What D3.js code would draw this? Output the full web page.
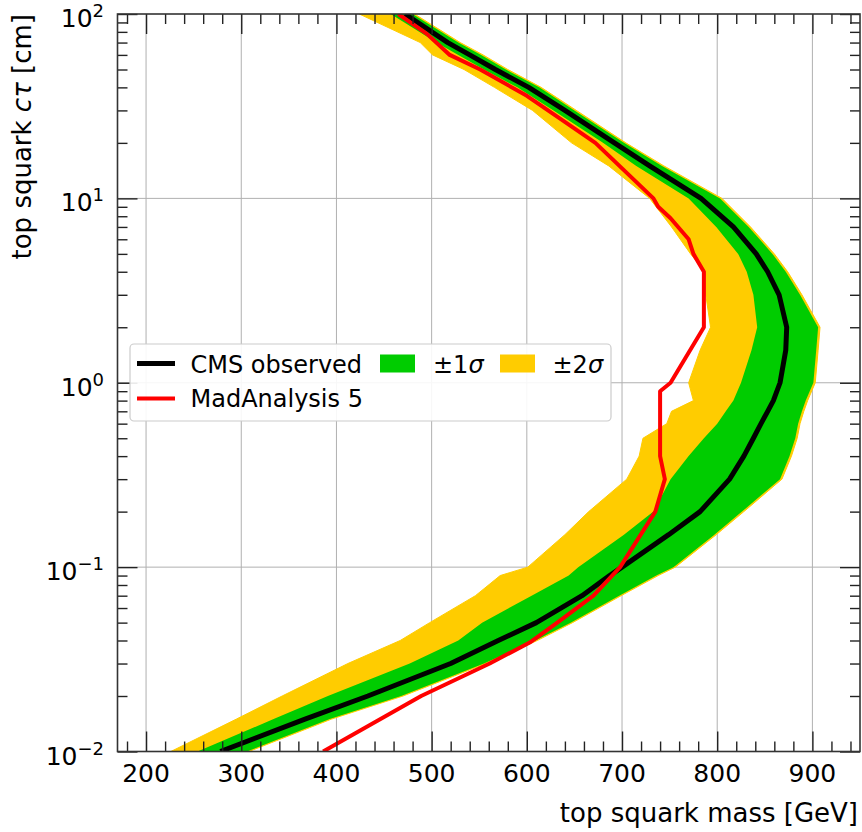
<!DOCTYPE html>
<html><head><meta charset="utf-8">
<script src="https://cdn.jsdelivr.net/npm/d3@7"></script>
<style>body{margin:0;background:#fff} text{font-family:"DejaVu Sans",sans-serif;fill:#000}</style>
</head><body><svg id="c" width="862" height="832"></svg>
<script>
// ---- data ----
const ctauGrid = [100, 70, 60, 50, 40, 30, 20, 15, 10, 7, 5, 4, 3, 2, 1.5, 1, 0.8, 0.7, 0.6, 0.5, 0.4, 0.3, 0.2, 0.15, 0.1, 0.09, 0.07, 0.05, 0.04, 0.03, 0.02, 0.015, 0.01];
const obsMass   = [472, 517, 540, 567, 602, 640, 692, 729, 783, 817, 841, 853, 865, 873, 872, 866, 859, 853, 846, 838, 828, 813, 782, 749, 700, 687, 658, 610, 570, 520, 433, 367, 278];
const expPlus1  = [480, 528, 552, 578, 613, 650, 702, 742, 803, 833, 858, 872, 887, 906, 904, 901, 893, 889, 885, 882, 876, 866, 826, 797, 754, 736, 697, 646, 609, 555, 468, 393, 306];
const expMinus1 = [457, 505, 528, 555, 590, 628, 680, 715, 770, 799, 822, 831, 838, 842, 836, 825, 817, 809, 800, 786, 770, 751, 733, 702, 654, 644, 605, 553, 528, 477, 391, 334, 254];
const expPlus2  = [482, 530, 554, 580, 615, 652, 704, 744, 805, 835, 860, 874, 889, 908, 906, 903, 895, 891, 887, 884, 878, 868, 828, 799, 756, 738, 699, 648, 611, 557, 470, 395, 308];
const expMinus2 = [424, 488, 501, 534, 566, 606, 647, 686, 729, 752, 772, 787, 788, 793, 782, 770, 775, 752, 747, 722, 718, 705, 665, 640, 601, 572, 546, 498, 467, 412, 343, 295, 226];
const ma5Ctau = [100, 78, 60, 50, 36, 26.4, 20, 10, 9, 7.8, 6, 5, 4, 2, 1, 0.9, 0.4, 0.3, 0.2, 0.1, 0.07, 0.05, 0.039, 0.03, 0.02, 0.01];
const ma5Mass = [465, 495, 519, 551, 600, 638, 672, 733, 738, 751, 770, 775, 786, 786, 751, 740, 740, 745, 735, 698, 670, 632, 603, 561, 489, 386];
const xMajorTicks = [200, 300, 400, 500, 600, 700, 800, 900];
const xTickLabels = ["200", "300", "400", "500", "600", "700", "800", "900"];
const yMajorTicks = [0.01, 0.1, 1, 10, 100];
const yTickExponents = ["\u22122", "\u22121", "0", "1", "2"];
const legendLabels = ["CMS observed", "MadAnalysis 5"];

// ---- layout ----
const L = 117.5, R = 860, T = 14, B = 751.5;
const svg = d3.select("#c");
const x = d3.scaleLinear().domain([170, 950]).range([L, R]);
const y = d3.scaleLog().domain([0.01, 100]).range([B, T]);

const xMinor = d3.range(180, 950, 20).filter(v => v % 100 !== 0);
const yMinor = [];
[0.01, 0.1, 1, 10].forEach(d => { for (let k = 2; k <= 9; k++) yMinor.push(d * k); });

svg.append("defs").append("clipPath").attr("id", "clip")
  .append("rect").attr("x", L).attr("y", T).attr("width", R - L).attr("height", B - T);

// grid
const grid = svg.append("g").attr("stroke", "#b0b0b0").attr("stroke-width", 1);
xMajorTicks.forEach(v => grid.append("line").attr("x1", x(v)).attr("x2", x(v)).attr("y1", T).attr("y2", B));
yMajorTicks.slice(1, -1).forEach(v => grid.append("line").attr("x1", L).attr("x2", R).attr("y1", y(v)).attr("y2", y(v)));

// bands
const band = ctauGrid.map((c, i) => ({c, m2: expMinus2[i], m1: expMinus1[i], p1: expPlus1[i], p2: expPlus2[i], o: obsMass[i]}));
const plot = svg.append("g").attr("clip-path", "url(#clip)");
plot.append("path").datum(band)
  .attr("d", d3.area().y(d => y(d.c)).x0(d => x(d.m2)).x1(d => x(d.p2)))
  .attr("fill", "#ffcc00").attr("stroke", "#ffcc00").attr("stroke-width", 1);
plot.append("path").datum(band)
  .attr("d", d3.area().y(d => y(d.c)).x0(d => x(d.m1)).x1(d => x(d.p1)))
  .attr("fill", "#00cc00");
plot.append("path").datum(band)
  .attr("d", d3.line().x(d => x(d.o)).y(d => y(d.c)))
  .attr("fill", "none").attr("stroke", "#000").attr("stroke-width", 5).attr("stroke-linejoin", "round");
const ma = ma5Ctau.map((c, i) => ({c, m: ma5Mass[i]}));
plot.append("path").datum(ma)
  .attr("d", d3.line().x(d => x(d.m)).y(d => y(d.c)))
  .attr("fill", "none").attr("stroke", "#ff0000").attr("stroke-width", 4).attr("stroke-linejoin", "round");

// ticks (inward, all four sides)
function ticks(axisFn, scale, vals, size, tr) {
  const g = svg.append("g").attr("transform", tr)
    .call(axisFn(scale).tickValues(vals).tickSize(-size).tickFormat(""));
  g.select(".domain").remove();
  g.selectAll("line").attr("stroke", "#222").attr("stroke-width", 1.4);
}
ticks(d3.axisBottom, x, xMajorTicks, 20, `translate(0,${B})`);
ticks(d3.axisBottom, x, xMinor, 10, `translate(0,${B})`);
ticks(d3.axisTop, x, xMajorTicks, 20, `translate(0,${T})`);
ticks(d3.axisTop, x, xMinor, 10, `translate(0,${T})`);
ticks(d3.axisLeft, y, yMajorTicks, 20, `translate(${L},0)`);
ticks(d3.axisLeft, y, yMinor, 10, `translate(${L},0)`);
ticks(d3.axisRight, y, yMajorTicks, 20, `translate(${R},0)`);
ticks(d3.axisRight, y, yMinor, 10, `translate(${R},0)`);

// frame
svg.append("rect").attr("x", L).attr("y", T).attr("width", R - L).attr("height", B - T)
  .attr("fill", "none").attr("stroke", "#333").attr("stroke-width", 1.6);

// tick labels
xMajorTicks.forEach((v, i) => svg.append("text").attr("x", x(v)).attr("y", 782)
  .attr("text-anchor", "middle").attr("font-size", 25).text(xTickLabels[i]));
yMajorTicks.forEach((v, i) => {
  const t = svg.append("text").attr("x", 104).attr("y", y(v) + 13).attr("text-anchor", "end").attr("font-size", 25);
  t.append("tspan").text("10");
  t.append("tspan").attr("font-size", 18).attr("dy", -10).text(yTickExponents[i]);
});

// axis titles
svg.append("text").attr("x", 858).attr("y", 822).attr("text-anchor", "end").attr("font-size", 26)
  .text("top squark mass [GeV]");
const yl = svg.append("text").attr("transform", "translate(31,14) rotate(-90)")
  .attr("text-anchor", "end").attr("font-size", 26);
yl.append("tspan").text("top squark ");
yl.append("tspan").attr("font-style", "italic").text("c\u03c4");
yl.append("tspan").text(" [cm]");

// legend
const lg = svg.append("g");
lg.append("rect").attr("x", 130).attr("y", 344).attr("width", 481).attr("height", 77).attr("rx", 4)
  .attr("fill", "#fff").attr("fill-opacity", 0.9).attr("stroke", "#cccccc").attr("stroke-width", 1.2);
lg.append("line").attr("x1", 137).attr("x2", 175).attr("y1", 363.5).attr("y2", 363.5).attr("stroke", "#000").attr("stroke-width", 5);
lg.append("line").attr("x1", 137).attr("x2", 175).attr("y1", 398.5).attr("y2", 398.5).attr("stroke", "#ff0000").attr("stroke-width", 4);
lg.append("text").attr("x", 190.5).attr("y", 372.5).attr("font-size", 24).text(legendLabels[0]);
lg.append("text").attr("x", 190.5).attr("y", 407.3).attr("font-size", 24).text(legendLabels[1]);
lg.append("rect").attr("x", 380).attr("y", 354.5).attr("width", 35).attr("height", 18).attr("fill", "#00cc00");
lg.append("rect").attr("x", 500).attr("y", 354.5).attr("width", 35).attr("height", 18).attr("fill", "#ffcc00");
[["\u00b11", 433], ["\u00b12", 552.5]].forEach(([s, px]) => {
  const t = lg.append("text").attr("x", px).attr("y", 372.5).attr("font-size", 24);
  t.append("tspan").text(s);
  t.append("tspan").attr("font-style", "italic").text("\u03c3");
});
</script></body></html>
